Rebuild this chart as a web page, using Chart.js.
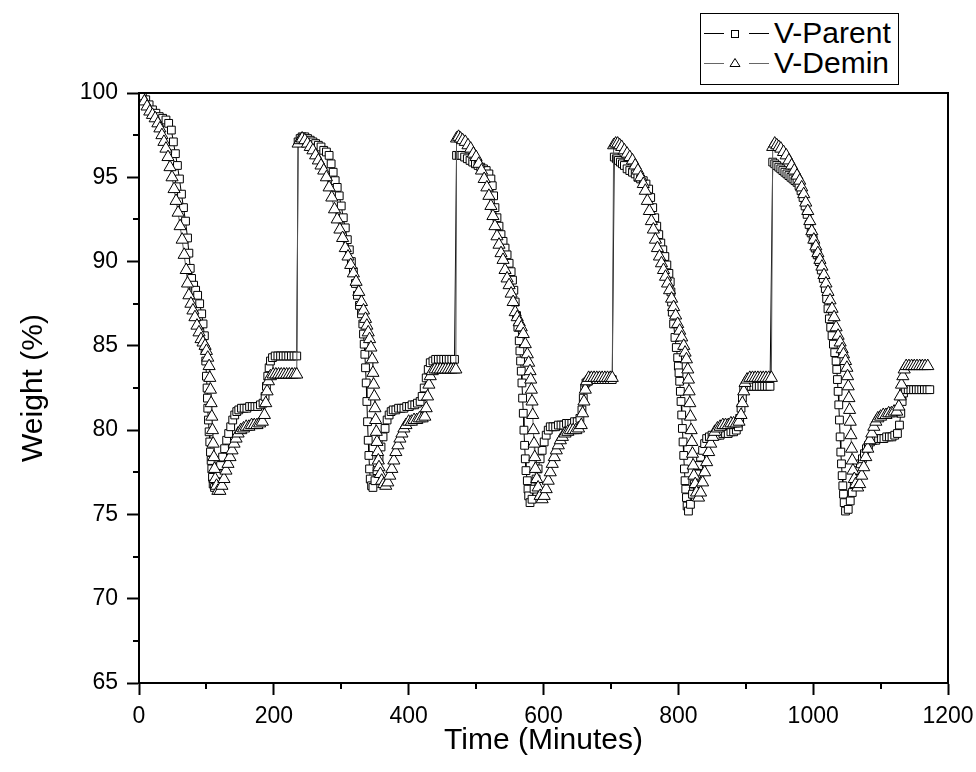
<!DOCTYPE html>
<html>
<head>
<meta charset="utf-8">
<script src="https://cdn.jsdelivr.net/npm/chart.js@4.4.1/dist/chart.umd.min.js"></script>
<style>
  body { margin: 0; background: #fff; }
  #wrap { position: relative; width: 976px; height: 772px; }
  #legend {
    position: absolute; left: 700px; top: 13px; width: 197px; height: 70px;
    border: 1px solid #000; background: #fff;
    font-family: 'Liberation Sans', Arial, sans-serif; font-size: 30px; color: #000;
  }
  #legend .row { position: absolute; left: 0; height: 30px; display: flex; align-items: center; }
  #legend svg { display: block; flex: none; }
  #legend span { line-height: 30px; }
</style>
</head>
<body>
<div id="wrap">
  <canvas id="chart" width="976" height="772"></canvas>
  <div id="legend">
    <div class="row" style="top:4px">
      <svg width="73" height="30"><line x1="3" y1="15.5" x2="23" y2="15.5" stroke="#000"/><rect x="30.5" y="12.5" width="7" height="7" fill="#fff" stroke="#000"/><line x1="48" y1="15.5" x2="68" y2="15.5" stroke="#000"/></svg><span>V-Parent</span>
    </div>
    <div class="row" style="top:34px">
      <svg width="73" height="30"><line x1="3" y1="15.5" x2="23" y2="15.5" stroke="#666"/><polygon points="34,10.5 39,18.5 29,18.5" fill="#fff" stroke="#000"/><line x1="48" y1="15.5" x2="68" y2="15.5" stroke="#666"/></svg><span>V-Demin</span>
    </div>
  </div>
</div>
<script>
// V-Parent (square markers): [time in minutes, weight %]
const parentPoints = [
  [0,100],[5,99.9],[10,99.6],[15,99.3],[20,99.0],[25,98.8],[30,98.6],[35,98.5],[40,98.4],[44,98.2],[48,97.8],[51,97.1],[54,96.4],[57,95.7],[60,94.9],[63,94.0],[66,93.2],[69,92.4],[72,91.4],[74,90.5],[76,89.6],[78,89.0],[81,88.6],[84,88.3],[87,88.0],[90,87.5],[93,86.9],[95,86.3],[97,85.6],[98,84.8],[99,84.1],[100,83.2],[101,82.5],[101.5,81.9],[102,81.3],[103,80.6],[104,79.9],[105,79.3],[106,78.7],[107,78.2],[108,77.7],[109,77.2],[110,76.8],[112,76.6],[115,76.9],[118,77.4],[121,77.9],[124,78.4],[127,78.9],[130,79.4],[133,79.8],[136,80.2],[139,80.6],[142,80.9],[145,81.1],[148,81.2],[152,81.3],[156,81.3],[160,81.3],[164,81.4],[168,81.4],[172,81.4],[176,81.4],[180,81.5],[184,81.6],[187,82.0],[189,82.6],[191,83.2],[193,83.7],[195,84.1],[198,84.3],[202,84.4],[206,84.4],[210,84.4],[214,84.4],[218,84.4],[222,84.4],[226,84.4],[230,84.4],[234,84.4],
  [236,97.1],[239,97.3],[242,97.4],[246,97.4],[250,97.3],[254,97.2],[258,97.1],[262,97.0],[266,96.9],[270,96.8],[274,96.6],[278,96.5],[282,96.3],[285,95.8],[288,95.3],[291,94.8],[294,94.4],[297,93.9],[300,93.3],[303,92.6],[306,92.0],[309,91.3],[312,90.7],[315,90.0],[318,89.4],[321,88.7],[324,88.0],[327,87.4],[330,86.9],[332,86.3],[333,85.7],[334,85.1],[335,84.5],[336,83.7],[337,82.8],[338,81.7],[339,80.5],[340,79.4],[341,78.5],[342,77.7],[343,77.1],[345,76.7],[347,76.6],[350,77.0],[353,77.6],[356,78.3],[359,79.0],[362,79.6],[365,80.1],[368,80.6],[371,80.9],[374,81.1],[377,81.2],[381,81.2],[385,81.3],[389,81.3],[393,81.3],[397,81.4],[401,81.4],[405,81.5],[409,81.5],[413,81.6],[417,81.7],[420,82.0],[423,82.5],[426,83.1],[429,83.6],[432,84.0],[436,84.1],[440,84.2],[444,84.2],[448,84.2],[452,84.2],[456,84.2],[460,84.2],[464,84.2],[468,84.2],
  [471,96.3],[475,96.3],[479,96.3],[483,96.2],[487,96.1],[491,96.0],[495,95.9],[499,95.8],[503,95.7],[507,95.6],[511,95.5],[515,95.4],[519,95.2],[522,94.9],[524,94.5],[526,93.9],[528,93.2],[531,92.6],[534,92.1],[537,91.6],[540,91.2],[543,90.8],[546,90.4],[549,89.9],[552,89.4],[554,88.9],[556,88.3],[558,87.6],[560,86.8],[562,86.1],[564,85.3],[565,84.7],[566,84.1],[567,83.5],[568,82.8],[569,81.9],[570,81.0],[571,80.0],[572,79.1],[573,78.3],[574,77.6],[576,77.0],[577,76.5],[578,76.1],[580,75.7],[583,75.9],[586,76.5],[589,77.1],[592,77.7],[595,78.3],[598,78.8],[601,79.3],[604,79.7],[607,80.0],[610,80.2],[614,80.2],[618,80.2],[622,80.3],[626,80.3],[630,80.3],[634,80.4],[638,80.4],[642,80.4],[646,80.5],[650,80.5],[654,80.7],[657,81.2],[659,81.9],[661,82.5],[663,82.8],[666,82.9],[670,83.0],[674,83.0],[678,83.0],[682,83.0],[686,83.0],[690,83.0],[694,83.0],[698,83.0],[702,83.0],
  [705,96.2],[708,96.1],[711,96.0],[714,95.9],[717,95.8],[720,95.7],[724,95.5],[728,95.4],[732,95.3],[736,95.2],[740,95.0],[744,94.9],[748,94.8],[752,94.6],[756,94.3],[759,93.8],[762,93.2],[765,92.6],[768,92.1],[771,91.6],[774,91.1],[777,90.7],[780,90.3],[783,89.8],[786,89.3],[788,88.8],[789,88.2],[790,87.6],[791,87.0],[793,86.3],[795,85.5],[797,84.9],[799,84.3],[800,83.8],[801,83.4],[802,82.9],[803,82.3],[804,81.7],[805,80.9],[806,80.1],[807,79.3],[808,78.5],[809,77.7],[810,77.0],[811,76.5],[812,76.0],[813,75.5],[815,75.2],[818,75.6],[821,76.2],[824,76.8],[827,77.4],[830,77.9],[833,78.4],[836,78.8],[839,79.2],[842,79.5],[846,79.6],[850,79.7],[854,79.7],[858,79.7],[862,79.7],[866,79.8],[870,79.8],[874,79.8],[878,79.9],[882,79.9],[886,80.0],[889,80.2],[891,80.7],[893,81.3],[895,81.9],[897,82.4],[900,82.6],[904,82.6],[908,82.6],[912,82.6],[916,82.6],[920,82.6],[924,82.6],[928,82.6],[932,82.6],[936,82.6],
  [940,95.9],[943,95.8],[946,95.7],[949,95.6],[952,95.5],[955,95.4],[958,95.3],[961,95.2],[964,95.1],[967,95.0],[970,94.9],[973,94.8],[976,94.7],[979,94.5],[982,94.2],[985,93.8],[988,93.3],[991,92.8],[994,92.2],[997,91.7],[1000,91.3],[1003,90.8],[1006,90.4],[1009,90.0],[1012,89.5],[1015,89.0],[1018,88.4],[1020,87.8],[1022,87.2],[1024,86.6],[1026,86.1],[1028,85.6],[1030,85.1],[1032,84.6],[1034,84.1],[1035,83.6],[1036,83.0],[1037,82.3],[1038,81.5],[1039,80.6],[1040,79.6],[1041,78.7],[1042,78.0],[1043,77.3],[1044,76.7],[1045,76.2],[1046,75.7],[1048,75.2],[1052,75.3],[1055,75.8],[1058,76.3],[1061,76.8],[1064,77.2],[1067,77.6],[1070,78.0],[1073,78.3],[1076,78.6],[1079,78.9],[1082,79.1],[1085,79.3],[1089,79.4],[1093,79.4],[1097,79.5],[1101,79.5],[1105,79.5],[1109,79.6],[1113,79.6],[1117,79.6],[1121,79.7],[1125,79.8],[1128,80.3],[1130,81.0],[1132,81.7],[1134,82.2],[1137,82.4],[1141,82.4],[1145,82.4],[1149,82.4],[1153,82.4],[1157,82.4],[1161,82.4],[1165,82.4],[1169,82.4],[1173,82.4]
];

// V-Demin (triangle markers): [time in minutes, weight %]
const deminPoints = [
  [0,100],[4,99.8],[8,99.5],[12,99.2],[16,98.9],[20,98.7],[24,98.5],[28,98.2],[31,97.9],[34,97.5],[37,97.1],[40,96.7],[43,96.2],[46,95.6],[49,95.0],[52,94.3],[55,93.6],[58,92.9],[61,92.1],[64,91.3],[67,90.4],[70,89.5],[72,88.7],[74,88.0],[77,87.5],[80,87.1],[83,86.7],[86,86.2],[89,85.8],[92,85.4],[95,85.2],[98,85.0],[100,84.7],[102,84.3],[104,83.8],[105,83.1],[106,82.4],[107,81.6],[108,80.8],[109,80.0],[110,79.2],[111,78.4],[112,77.7],[113,77.1],[115,76.7],[117,76.4],[120,76.4],[123,76.7],[126,77.1],[129,77.6],[132,78.0],[135,78.4],[138,78.8],[141,79.2],[144,79.5],[147,79.8],[151,80.0],[155,80.1],[159,80.2],[163,80.2],[167,80.3],[171,80.3],[175,80.3],[179,80.4],[183,80.5],[186,80.9],[188,81.6],[190,82.3],[192,82.9],[195,83.2],[199,83.3],[203,83.3],[207,83.3],[211,83.3],[215,83.3],[219,83.3],[223,83.3],[227,83.3],[231,83.3],[234,83.3],
  [236,97.0],[239,97.2],[242,97.3],[246,97.2],[250,97.0],[254,96.8],[258,96.6],[262,96.3],[266,96.0],[270,95.7],[274,95.4],[278,95.0],[282,94.4],[286,93.8],[290,93.1],[294,92.5],[298,91.9],[302,91.4],[306,90.8],[310,90.3],[314,89.8],[318,89.3],[322,88.8],[326,88.2],[330,87.6],[333,87.1],[336,86.6],[338,86.2],[340,85.8],[342,85.4],[344,84.9],[346,84.2],[347,83.4],[348,82.7],[349,82.0],[350,81.3],[351,80.6],[352,79.9],[353,79.3],[354,78.7],[355,78.2],[356,77.8],[358,77.4],[360,77.0],[363,76.8],[366,76.7],[369,76.9],[372,77.3],[375,77.7],[378,78.2],[381,78.7],[384,79.1],[387,79.5],[390,79.8],[393,80.1],[396,80.3],[400,80.5],[404,80.5],[408,80.6],[412,80.6],[416,80.7],[420,80.7],[424,80.8],[426,81.3],[428,82.0],[430,82.7],[432,83.2],[435,83.5],[439,83.6],[443,83.6],[447,83.6],[451,83.6],[455,83.6],[459,83.6],[463,83.6],[467,83.6],[470,83.6],
  [471,97.3],[474,97.4],[477,97.3],[480,97.2],[484,97.1],[488,96.9],[492,96.7],[496,96.4],[500,96.2],[504,95.8],[508,95.4],[512,94.9],[516,94.4],[519,93.9],[522,93.3],[525,92.7],[528,92.1],[531,91.5],[534,91.0],[537,90.5],[540,90.1],[543,89.5],[546,89.0],[549,88.6],[552,88.1],[555,87.6],[558,87.0],[561,86.7],[564,86.4],[567,86.1],[570,85.7],[573,85.1],[576,84.5],[578,84.0],[580,83.5],[581,83.0],[582,82.4],[583,81.7],[584,80.9],[585,80.0],[586,79.2],[587,78.4],[588,77.7],[590,77.1],[592,76.6],[595,76.1],[598,75.9],[601,76.1],[604,76.5],[607,77.0],[610,77.5],[613,78.0],[616,78.4],[619,78.8],[622,79.1],[625,79.4],[628,79.6],[632,79.8],[636,79.9],[640,80.0],[644,80.0],[648,80.0],[652,80.1],[656,80.3],[658,81.0],[660,81.7],[662,82.4],[664,82.9],[667,83.1],[671,83.1],[675,83.1],[679,83.1],[683,83.1],[687,83.1],[691,83.1],[695,83.1],[699,83.1],[702,83.1],
  [704,96.9],[707,97.0],[710,97.0],[713,96.9],[716,96.8],[720,96.6],[724,96.4],[728,96.2],[732,96.0],[736,95.7],[740,95.4],[744,95.0],[748,94.6],[751,94.2],[754,93.6],[757,93.0],[760,92.4],[763,91.9],[766,91.3],[769,90.8],[772,90.3],[775,89.9],[778,89.5],[781,89.1],[784,88.7],[787,88.3],[790,87.8],[793,87.3],[796,86.8],[799,86.3],[802,85.9],[805,85.5],[808,85.0],[810,84.6],[812,84.2],[814,83.6],[815,83.0],[816,82.3],[817,81.6],[818,80.8],[819,80.0],[820,79.3],[821,78.6],[822,77.9],[823,77.3],[825,76.8],[827,76.3],[830,76.0],[833,76.3],[836,76.9],[839,77.5],[842,78.1],[845,78.7],[848,79.2],[851,79.6],[854,79.9],[858,80.1],[862,80.2],[866,80.3],[870,80.3],[874,80.3],[878,80.4],[882,80.4],[886,80.4],[890,80.5],[893,80.9],[895,81.6],[897,82.3],[899,82.8],[902,83.0],[906,83.1],[910,83.1],[914,83.1],[918,83.1],[922,83.1],[926,83.1],[930,83.1],[934,83.1],[938,83.1],
  [940,96.8],[943,97.0],[946,96.9],[949,96.8],[952,96.7],[956,96.5],[960,96.3],[964,96.0],[968,95.7],[972,95.4],[976,95.1],[980,94.8],[983,94.4],[986,94.0],[989,93.5],[992,93.0],[995,92.4],[998,91.8],[1001,91.3],[1004,90.9],[1007,90.5],[1010,90.1],[1013,89.7],[1016,89.2],[1019,88.7],[1022,88.2],[1025,87.7],[1028,87.2],[1031,86.7],[1034,86.1],[1037,85.6],[1040,85.2],[1043,84.8],[1045,84.5],[1048,84.1],[1050,83.7],[1051,83.2],[1052,82.6],[1053,81.9],[1054,81.2],[1055,80.5],[1056,79.7],[1057,78.9],[1058,78.2],[1059,77.6],[1061,77.1],[1063,76.8],[1066,76.6],[1069,76.8],[1072,77.3],[1075,77.8],[1078,78.4],[1081,78.9],[1084,79.4],[1087,79.8],[1090,80.2],[1093,80.5],[1096,80.7],[1100,80.8],[1104,80.9],[1108,80.9],[1112,81.0],[1116,81.0],[1120,81.1],[1124,81.1],[1127,81.4],[1129,82.0],[1131,82.7],[1133,83.2],[1135,83.6],[1138,83.8],[1142,83.8],[1146,83.8],[1150,83.8],[1154,83.8],[1158,83.8],[1162,83.8],[1166,83.8],[1170,83.8]
];

const xTicks = [0, 200, 400, 600, 800, 1000, 1200];
const yTicks = [65, 70, 75, 80, 85, 90, 95, 100];
const xMinorTicks = [100, 300, 500, 700, 900, 1100];
const yMinorTicks = [67.5, 72.5, 77.5, 82.5, 87.5, 92.5, 97.5];

const fontFamily = "'Liberation Sans', Arial, sans-serif";

// box round the plot and the short minor ticks on the two axes
const framePlugin = {
  id: 'frame',
  afterDraw(chart) {
    const { ctx, chartArea: a, scales: { x, y } } = chart;
    ctx.save();
    ctx.strokeStyle = '#000';
    ctx.lineWidth = 2;
    ctx.strokeRect(a.left, a.top, a.right - a.left, a.bottom - a.top);
    ctx.beginPath();
    yMinorTicks.forEach(v => {
      const py = Math.round(y.getPixelForValue(v));
      ctx.moveTo(a.left - 6, py);
      ctx.lineTo(a.left, py);
    });
    xMinorTicks.forEach(v => {
      const px = Math.round(x.getPixelForValue(v));
      ctx.moveTo(px, a.bottom);
      ctx.lineTo(px, a.bottom + 6);
    });
    ctx.stroke();
    ctx.restore();
  }
};

const ctx = document.getElementById('chart').getContext('2d');
const chart = new Chart(ctx, {
  type: 'scatter',
  data: {
    datasets: [{
      label: 'V-Parent',
      data: parentPoints.map(p => ({ x: p[0], y: p[1] })),
      showLine: true,
      borderColor: '#000',
      borderWidth: 1,
      tension: 0,
      pointStyle: 'rect',
      pointRadius: 5.5,
      pointBorderWidth: 1,
      pointBorderColor: '#000',
      pointBackgroundColor: '#fff',
      order: 2
    }, {
      label: 'V-Demin',
      data: deminPoints.map(p => ({ x: p[0], y: p[1] })),
      showLine: true,
      borderColor: '#555',
      borderWidth: 1,
      tension: 0,
      pointStyle: 'triangle',
      pointRadius: 7,
      pointBorderWidth: 1,
      pointBorderColor: '#000',
      pointBackgroundColor: '#fff',
      order: 1
    }]
  },
  options: {
    responsive: false,
    animation: false,
    devicePixelRatio: 1,
    layout: { padding: { left: 0, right: 28, top: 93, bottom: 0 } },
    plugins: {
      legend: { display: false },
      tooltip: { enabled: false }
    },
    scales: {
      x: {
        type: 'linear',
        min: 0,
        max: 1200,
        afterBuildTicks: scale => { scale.ticks = xTicks.map(v => ({ value: v })); },
        afterFit: scale => {
          scale.height = 89;
          scale.paddingLeft = 0;
          scale.paddingRight = 0;
        },
        ticks: { color: '#000', padding: 8, font: { family: fontFamily, size: 23 }, callback: v => String(v) },
        grid: { drawOnChartArea: false, tickLength: 12, tickWidth: 2, tickColor: '#000' },
        border: { color: '#000', width: 2 },
        title: {
          display: true,
          text: 'Time (Minutes)',
          color: '#000',
          font: { family: fontFamily, size: 30 },
          padding: { top: 0, bottom: 13 }
        }
      },
      y: {
        type: 'linear',
        min: 65,
        max: 100,
        afterBuildTicks: scale => { scale.ticks = yTicks.map(v => ({ value: v })); },
        afterFit: scale => {
          scale.width = 139;
          scale.paddingTop = 0;
          scale.paddingBottom = 0;
        },
        ticks: { color: '#000', padding: 9, font: { family: fontFamily, size: 23 }, callback: v => String(v) },
        grid: { drawOnChartArea: false, tickLength: 12, tickWidth: 2, tickColor: '#000' },
        border: { color: '#000', width: 2 },
        title: {
          display: true,
          text: 'Weight (%)',
          color: '#000',
          font: { family: fontFamily, size: 30 },
          padding: { top: 16, bottom: 0 }
        }
      }
    }
  },
  plugins: [framePlugin]
});
</script>
</body>
</html>
